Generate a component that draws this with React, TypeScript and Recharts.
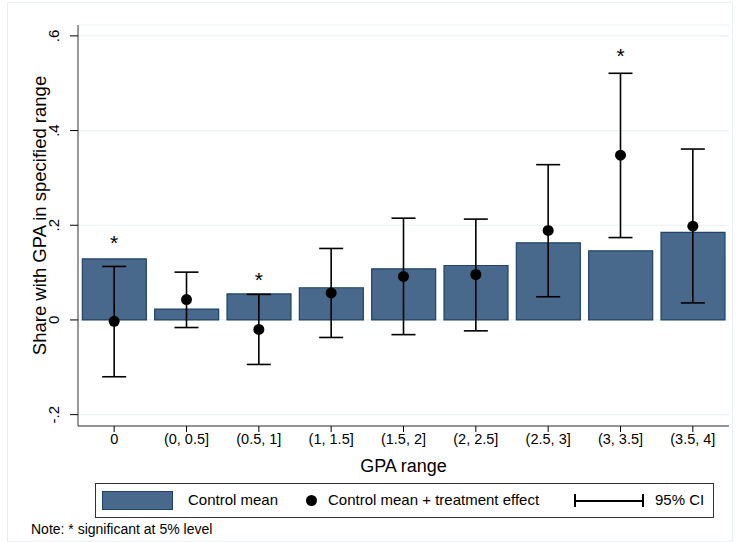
import React from "react";
import { ComposedChart, Bar, Scatter, XAxis, YAxis, CartesianGrid, ErrorBar } from "recharts";

const categories = ["0", "(0, 0.5]", "(0.5, 1]", "(1, 1.5]", "(1.5, 2]", "(2, 2.5]", "(2.5, 3]", "(3, 3.5]", "(3.5, 4]"];
const controlMean = [0.129, 0.023, 0.055, 0.068, 0.108, 0.115, 0.163, 0.146, 0.185];
const effect = [-0.003, 0.043, -0.02, 0.057, 0.092, 0.096, 0.189, 0.348, 0.198];
const ciLow = [-0.12, -0.016, -0.094, -0.037, -0.031, -0.023, 0.049, 0.174, 0.036];
const ciHigh = [0.113, 0.101, 0.054, 0.151, 0.215, 0.213, 0.328, 0.521, 0.361];
const starPos = [0.168, null, 0.091, null, null, null, null, 0.563, null];
const yTicks = [-0.2, 0, 0.2, 0.4, 0.6];

const data = categories.map((c, i) => ({
  cat: c,
  mean: controlMean[i],
  eff: effect[i],
  err: [effect[i] - ciLow[i], ciHigh[i] - effect[i]],
  star: starPos[i],
}));

const FONT = "Liberation Sans, Arial, sans-serif";
const fmt = (v: number) => (v === 0 ? "0" : (v < 0 ? "-" : "") + String(Math.abs(v)).replace(/^0/, ""));

const YTick = (p: any) => (
  <text x={p.x - 9} y={p.y} transform={`rotate(-90 ${p.x - 9} ${p.y})`} textAnchor="middle" fontSize={15} fontFamily={FONT} fill="#000">
    {fmt(p.payload.value)}
  </text>
);

const YLabel = (p: any) => {
  const vb = p.viewBox || {};
  const x = 46;
  const y = (vb.y ?? 25) + (vb.height ?? 401) / 2 - 10;
  return (
    <text x={x} y={y} transform={`rotate(-90 ${x} ${y})`} textAnchor="middle" fontSize={18.5} fontFamily={FONT} fill="#000">
      Share with GPA in specified range
    </text>
  );
};

const Dot = (p: any) => <circle cx={p.cx} cy={p.cy} r={5.5} fill="#000" />;
const Star = (p: any) =>
  p.payload.star == null ? null : (
    <text x={p.cx} y={p.cy + 10} textAnchor="middle" fontSize={21} fontFamily={FONT} fill="#000">*</text>
  );

export default function App() {
  return (
    <div style={{ position: "absolute", left: 0, top: 0, width: 736, height: 542, background: "#fff", fontFamily: FONT }}>
      <div style={{ position: "absolute", left: 7, top: 2, width: 724, height: 538, border: "1px solid #e8f0f3" }} />
      <ComposedChart width={736} height={542} data={data} margin={{ top: 25, right: 7, bottom: 76, left: 0 }} barCategoryGap="6%">
        <CartesianGrid horizontal vertical={false} stroke="#eaf2f3" strokeWidth={1.2} />
        <XAxis dataKey="cat" tick={{ fontSize: 14.5, fill: "#000", fontFamily: FONT }} tickLine={{ stroke: "#000" }} axisLine={{ stroke: "#333" }} tickSize={6} interval={0}
          label={{ value: "GPA range", position: "insideBottom", offset: -6, fontSize: 18, fill: "#000", fontFamily: FONT }} height={40} />
        <YAxis domain={[-0.224, 0.623]} ticks={yTicks} width={78} tick={<YTick />} tickLine={{ stroke: "#000" }} axisLine={{ stroke: "#333" }} tickSize={8} allowDataOverflow
          label={<YLabel />} />
        <Bar dataKey="mean" fill="#48698b" stroke="#1f436a" strokeWidth={1.2} isAnimationActive={false} />
        <Scatter dataKey="eff" shape={<Dot />} isAnimationActive={false}>
          <ErrorBar dataKey="err" width={12} stroke="#000" strokeWidth={1.6} direction="y" />
        </Scatter>
        <Scatter dataKey="star" shape={<Star />} isAnimationActive={false} />
      </ComposedChart>
      <div style={{ position: "absolute", left: 95, top: 483, width: 619, height: 35, border: "1px solid #333", boxSizing: "border-box", fontSize: 15 }}>
        <div style={{ position: "absolute", left: 6, top: 7, width: 71, height: 19, background: "#48698b", border: "1px solid #1f436a", boxSizing: "border-box" }} />
        <div style={{ position: "absolute", left: 92, top: 7 }}>Control mean</div>
        <div style={{ position: "absolute", left: 210, top: 11, width: 11, height: 11, borderRadius: "50%", background: "#000" }} />
        <div style={{ position: "absolute", left: 232, top: 7 }}>Control mean + treatment effect</div>
        <div style={{ position: "absolute", left: 478, top: 16, width: 69, height: 1.5, background: "#000" }} />
        <div style={{ position: "absolute", left: 478, top: 10, width: 1.5, height: 13, background: "#000" }} />
        <div style={{ position: "absolute", left: 546, top: 10, width: 1.5, height: 13, background: "#000" }} />
        <div style={{ position: "absolute", left: 559, top: 7 }}>95% CI</div>
      </div>
      <div style={{ position: "absolute", left: 31, top: 521, fontSize: 14 }}>Note: * significant at 5% level</div>
    </div>
  );
}
